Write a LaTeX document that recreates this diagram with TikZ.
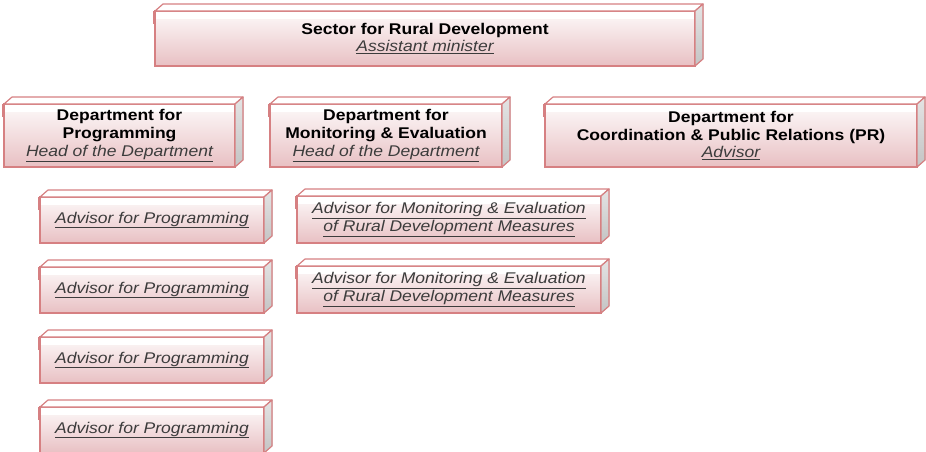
\documentclass[tikz,border=0pt]{standalone}
\usepackage{fontspec}
\setmainfont[FakeStretch=1.13]{Liberation Sans}
\definecolor{edgered}{RGB}{214,128,130}
\definecolor{pinktop}{RGB}{232,192,195}
\definecolor{pinkbot}{RGB}{253,250,250}
\definecolor{sidetop}{RGB}{196,196,196}
\definecolor{sidebot}{RGB}{228,228,228}
\definecolor{roletext}{RGB}{60,60,60}
\newcommand{\rolel}[1]{\textcolor{roletext}{\itshape\underline{#1}}}
\tikzset{
  front/.style={draw=edgered, line width=1.2pt, top color=pinkbot, bottom color=pinktop,
    inner sep=0pt, outer sep=0pt, align=center, font=\fontsize{15.5}{17.6}\selectfont,
    path picture={\fill[white] (path picture bounding box.north west) rectangle ([yshift=-8pt]path picture bounding box.north east);}},
  topface/.style={fill=white, draw=edgered, line width=1.2pt, line join=round},
  sideface/.style={top color=sidebot, bottom color=sidetop, draw=edgered, line width=1.2pt, line join=round},
  lid/.style={draw=edgered, line width=3pt}
}
\newcommand{\boxthreed}[6]{%
  \node[front, minimum width={(#4-#2)*1pt}, minimum height={(#5-#3)*1pt}] (#1) at ({(#2+#4)/2},{(#3+#5)/2}) {#6};
  \filldraw[topface] (#1.north west) -- ++(8,-7) -- ([shift={(8,-7)}]#1.north east) -- (#1.north east) -- cycle;
  \filldraw[sideface] (#1.north east) -- ++(8,-7) -- ([shift={(8,-7)}]#1.south east) -- (#1.south east) -- cycle;
  \draw[lid] ([shift={(-0.8,0)}]#1.north west) -- ++(0,13);
}
\begin{document}
\begin{tikzpicture}[x=1pt,y=-1pt]
\useasboundingbox (0,0) rectangle (926,451);
\boxthreed{sector}{155}{11}{695}{66}{\textbf{Sector for Rural Development}\\\rolel{Assistant minister}}
\boxthreed{dprog}{4}{104}{235}{167}{\textbf{Department for}\\\textbf{Programming}\\\rolel{Head of the Department}}
\boxthreed{dme}{270}{104}{502}{167}{\textbf{Department for}\\\textbf{Monitoring \& Evaluation}\\\rolel{Head of the Department}}
\boxthreed{dcoord}{545}{104}{917}{167}{\textbf{Department for}\\\textbf{Coordination \& Public Relations (PR)}\\\rolel{Advisor}}
\boxthreed{aprog1}{40}{197}{264}{243}{\rolel{Advisor for Programming}}
\boxthreed{aprog2}{40}{267}{264}{313}{\rolel{Advisor for Programming}}
\boxthreed{aprog3}{40}{337}{264}{383}{\rolel{Advisor for Programming}}
\boxthreed{aprog4}{40}{407}{264}{453}{\rolel{Advisor for Programming}}
\boxthreed{ame1}{297}{196}{601}{243}{\rolel{Advisor for Monitoring \& Evaluation}\\\rolel{of Rural Development Measures}}
\boxthreed{ame2}{297}{266}{601}{313}{\rolel{Advisor for Monitoring \& Evaluation}\\\rolel{of Rural Development Measures}}
\end{tikzpicture}
\end{document}
